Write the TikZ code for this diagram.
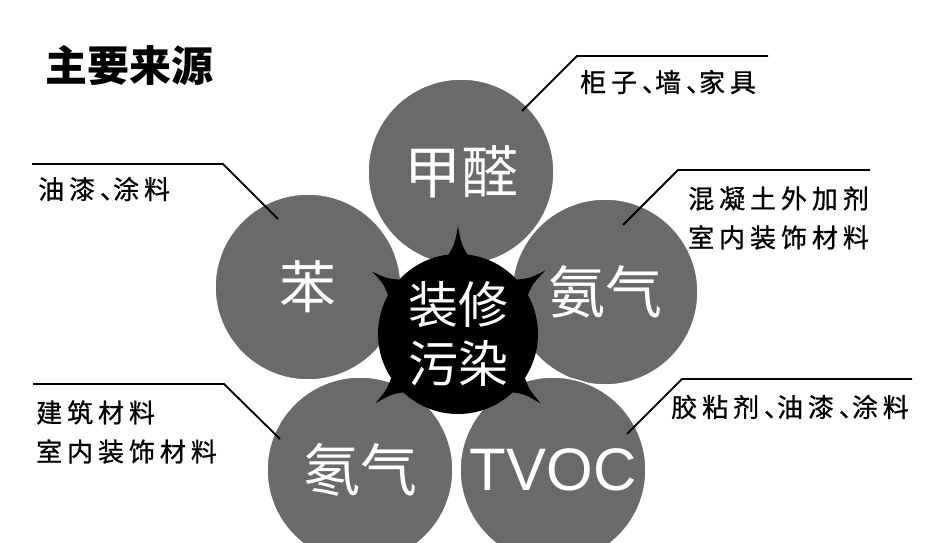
\documentclass[tikz,border=0pt]{standalone}
\usepackage{fontspec}
\usetikzlibrary{calc}
\setmainfont{Noto Sans CJK SC}
\newfontfamily\latinsans{Liberation Sans}
\newfontfamily\notefont[LetterSpace=19,FakeBold=0.8]{Noto Sans CJK SC}
\newcommand\dunhao{、\kern-0.5em}
\definecolor{srcgray}{RGB}{106,106,106}

\begin{document}
\begin{tikzpicture}[x=1pt,y=1pt]
  \tikzstyle{source}=[circle,fill=srcgray,draw=white,line width=1.5pt,minimum size=186pt,inner sep=0pt,text=white,font=\fontsize{57}{60}\selectfont]
  \tikzstyle{core}=[circle,fill=black,minimum size=160pt,inner sep=0pt,text=white,align=center,font=\fontsize{50}{59}\selectfont]
  \tikzstyle{spike}=[fill=black]
  \tikzstyle{leader}=[line width=1.8pt]
  \tikzstyle{note}=[anchor=west,inner sep=0pt,align=left,font=\notefont\fontsize{26}{39}\selectfont]
  \useasboundingbox (0,0) rectangle (939,542);
  \clip (0,0) rectangle (939,542);

  \node [anchor=west,inner sep=0pt,font=\fontsize{42}{44}\selectfont\bfseries] (title) at (45,477) {主要来源};

  % five sources round the centre
  \node [source] (jiaquan) at (461,370) {甲醛};
  \node [source] (ben) at (308,255) {苯};
  \node [source] (anqi) at (605,250) {氨气};
  \node [source] (dongqi) at (360,72) {氡气};
  \node [source] (tvoc) at (553,72) {\latinsans\fontsize{60}{60}\selectfont TVOC};

  \coordinate (o) at (458,208);
  \begin{scope}[shift={(o)}]
    \fill [spike] (82:78) .. controls (88:90) .. (90:108) .. controls (92:90) .. (98:78) -- cycle;
    \fill [spike] (28:78) .. controls (34:90) .. (36:108) .. controls (38:90) .. (44:78) -- cycle;
    \fill [spike] (136:78) .. controls (142:90) .. (144:106) .. controls (146:90) .. (152:78) -- cycle;
    \fill [spike] (212:78) .. controls (218:90) .. (220:108) .. controls (222:90) .. (228:78) -- cycle;
    \fill [spike] (312:78) .. controls (318:90) .. (320:108) .. controls (322:90) .. (328:78) -- cycle;
  \end{scope}
  \node [core] (mid) at (o) {装修\\污染};

  % leaders and notes
  \draw [leader] ($(jiaquan)+(61,61)$) -- ++(55,55) -- ++(191,0);
  \draw [leader] ($(anqi)+(18,67)$) -- ++(55,55) -- ++(192,0);
  \draw [leader] ($(ben)+(-30,68)$) -- ++(-55,55) -- ++(-191,0);
  \draw [leader] ($(dongqi)+(-80,31)$) -- ++(-56,55) -- ++(-191,0);
  \draw [leader] ($(tvoc)+(74,36)$) -- ++(55,55) -- ++(230,0);

  \node [note] (n-jiaquan) at (580,460) {柜子\dunhao 墙\dunhao 家具};
  \node [note] (n-anqi) at (688,324) {混凝土外加剂\\室内装饰材料};
  \node [note] (n-ben) at (38,353) {油漆\dunhao 涂料};
  \node [note] (n-dongqi) at (36,110) {建筑材料\\室内装饰材料};
  \node [note] (n-tvoc) at (671,135) {胶粘剂\dunhao 油漆\dunhao 涂料};
\end{tikzpicture}
\end{document}
